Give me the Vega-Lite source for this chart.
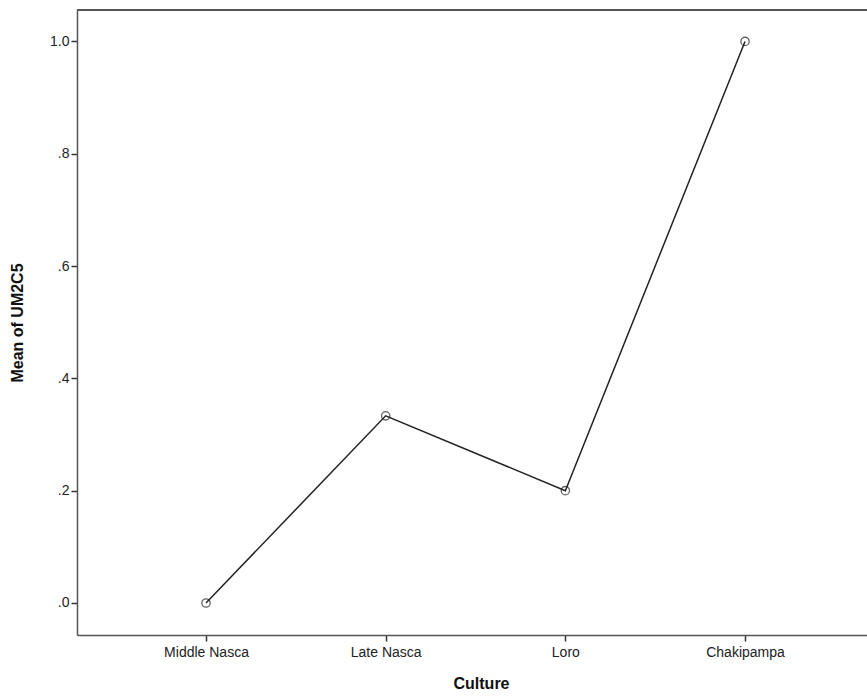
{
  "$schema": "https://vega.github.io/schema/vega-lite/v6.json",
  "autosize": {"type": "none"},
  "padding": {"left": 77, "top": 10, "right": 0, "bottom": 65},
  "width": 790,
  "height": 625,
  "background": "white",
  "config": {
    "view": {"stroke": null},
    "font": "Liberation Sans",
    "axis": {"grid": false, "domainColor": "#555", "domainWidth": 1.5, "tickColor": "#333", "tickWidth": 1.5, "tickSize": 6, "labelColor": "#222", "labelFontSize": 14, "labelFont": "Liberation Sans", "titleFont": "Liberation Sans", "titleFontSize": 16, "titleFontWeight": "bold", "titleColor": "#111"}
  },
  "data": {"values": [
    {"Culture": "Middle Nasca", "mean": 0.0},
    {"Culture": "Late Nasca", "mean": 0.3333},
    {"Culture": "Loro", "mean": 0.2},
    {"Culture": "Chakipampa", "mean": 1.0}
  ]},
  "layer": [
    {
      "mark": {"type": "rule", "color": "#555", "strokeWidth": 2},
      "encoding": {"y": {"datum": 1.056, "type": "quantitative"}}
    },
    {
      "mark": {"type": "line", "color": "#222", "strokeWidth": 1.5},
      "encoding": {
        "x": {"field": "Culture", "type": "ordinal", "sort": null,
          "scale": {"type": "point", "padding": 0.6985, "align": 0.514},
          "axis": {"title": "Culture", "labelAngle": 0, "labelPadding": 4, "titlePadding": 16, "titleX": 404}},
        "y": {"field": "mean", "type": "quantitative",
          "scale": {"domain": [-0.057, 1.056], "nice": false, "zero": false},
          "axis": {"title": "Mean of UM2C5", "values": [0, 0.2, 0.4, 0.6, 0.8, 1.0], "labelExpr": "datum.value >= 1 ? '1.0' : '.' + format(datum.value*10, 'd')", "labelPadding": 2, "titlePadding": 24, "tickSize": 6}}
      }
    },
    {
      "mark": {"type": "point", "shape": "circle", "filled": false, "color": "#222", "size": 70, "strokeWidth": 1.3},
      "encoding": {
        "x": {"field": "Culture", "type": "ordinal", "sort": null},
        "y": {"field": "mean", "type": "quantitative"}
      }
    }
  ]
}
